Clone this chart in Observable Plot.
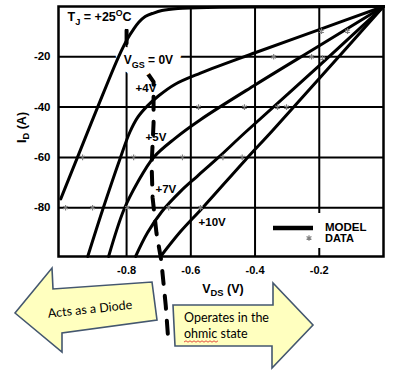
<!DOCTYPE html>
<html><head><meta charset="utf-8">
<script src="https://cdn.jsdelivr.net/npm/d3@7"></script>
<script src="https://cdn.jsdelivr.net/npm/@observablehq/plot@0.6"></script>
<style>body{margin:0;background:#fff}</style>
</head><body><div id="chart"></div>
<script>
// Axis ticks
const xTicks = [-0.8, -0.6, -0.4, -0.2];
const yTicks = [-20, -40, -60, -80];

// Model curves (V_DS in volts, I_D in amps), one pair of arrays per V_GS
const seriesNames = ["0V", "+4V", "+5V", "+7V", "+10V"];
const vds0 = [0, -0.3, -0.55, -0.64, -0.69, -0.716, -0.742, -0.762, -0.779, -0.797, -0.825, -0.89, -0.953, -1.005];
const id0  = [0, -0.2, -0.35, -0.8, -1.6, -2.6, -4.0, -6.3, -9.2, -12.8, -20, -40, -60, -76.5];
const vds4 = [0, -0.2, -0.4, -0.57, -0.65, -0.70, -0.735, -0.765, -0.79, -0.819, -0.875, -0.921];
const id4  = [0, -9.2, -18.4, -26.5, -31, -35.5, -39.5, -44, -50, -60, -81, -99.4];
const vds5 = [0, -0.2, -0.4, -0.57, -0.65, -0.716, -0.766, -0.809, -0.856];
const id5  = [0, -15.6, -31.2, -45, -52.5, -60, -70, -81, -99.4];
const vds7 = [0, -0.2, -0.43, -0.514, -0.58, -0.632, -0.69, -0.735, -0.772];
const id7  = [0, -23.5, -50, -60, -67.5, -73.5, -81.5, -90, -99.4];
const vds10 = [0, -0.2, -0.346, -0.43, -0.563, -0.632, -0.694];
const id10  = [0, -28.6, -49.4, -61, -80, -89.5, -99.4];

// Measured data points
const dataV = [-0.193, -0.112, -0.342, -0.224, -0.19, -0.576, -0.433, -0.33, -0.302, -0.937, -0.778, -0.626, -0.50, -0.44, -0.99, -0.906, -0.797, -0.669, -0.57];
const dataI = [-9.8, -9.8, -20, -20, -20.5, -40, -40, -40, -40, -60, -60, -60, -60, -60, -80, -80, -80, -80, -80];

// Dashed boundary (knee locus) between diode and ohmic operation
const locusV = [-0.800, -0.800, -0.716, -0.716, -0.722, -0.719, -0.707, -0.692, -0.678, -0.670];
const locusI = [-9.4, -14.6, -30, -46.5, -63, -76, -90, -101, -119, -133];

// In-chart labels
const labelText = ["T_{J} = +25^{O}C", "V_{GS} = 0V", "+4V", "+5V", "+7V", "+10V"];
const labelV = [-0.984, -0.809, -0.772, -0.741, -0.710, -0.576];
const labelI = [-4.2, -21.3, -32.5, -52, -72.7, -85.9];
const labelSize = [12.5, 12, 11.5, 11.5, 11.5, 11.5];

const seriesV = [vds0, vds4, vds5, vds7, vds10];
const seriesI = [id0, id4, id5, id7, id10];
const curves = seriesNames.flatMap((s, k) => seriesV[k].map((v, j) => ({s, v, i: seriesI[k][j]})));
const points = dataV.map((v, j) => ({v, i: dataI[j]}));
const locus = locusV.map((v, j) => ({v, i: locusI[j]}));
const labels = labelText.map((t, j) => ({t, v: labelV[j], i: labelI[j], fs: labelSize[j]}));
const haloLabels = labels.slice(0, 2);

const plot = Plot.plot({
  width: 401, height: 370,
  marginLeft: 58, marginRight: 18, marginTop: 6, marginBottom: 114,
  style: {fontFamily: "'Liberation Sans', Arial, sans-serif", fontWeight: "bold", background: "white", color: "black"},
  x: {domain: [-1.012, 0]},
  y: {domain: [-99.4, 0]},
  marks: [
    Plot.gridX(xTicks, {stroke: "black", strokeOpacity: 1, strokeWidth: 2}),
    Plot.gridY(yTicks, {stroke: "black", strokeOpacity: 1, strokeWidth: 2}),
    Plot.line(locus, {x: "v", y: "i", stroke: "black", strokeWidth: 4, strokeDasharray: "13,12"}),
    Plot.text(haloLabels, {x: "v", y: "i", text: "t", textAnchor: "start", fontSize: d => d.fs, fill: "white", stroke: "white", strokeWidth: 16, strokeLinejoin: "round"}),
    Plot.line(curves, {x: "v", y: "i", z: "s", stroke: "black", strokeWidth: 3, curve: "catmull-rom"}),
    Plot.dot(points, {x: "v", y: "i", symbol: "asterisk", r: 2.6, stroke: "#808080", strokeWidth: 1.2}),
    Plot.text(labels, {x: "v", y: "i", text: "t", textAnchor: "start", fontSize: d => d.fs, fill: "black"}),
    Plot.frame({stroke: "black", strokeWidth: 2.5}),
    Plot.axisX(xTicks, {tickSize: 0, tickPadding: 10, fontSize: 11, tickFormat: d => d.toFixed(1), label: null}),
    Plot.axisY(yTicks, {tickSize: 0, tickPadding: 8, fontSize: 11.5, tickFormat: d => String(d), label: null}),
    Plot.text(["V_{DS} (V)"], {text: d => d, frameAnchor: "bottom", dx: 2, dy: 32, fontSize: 12.5, textAnchor: "middle", lineAnchor: "middle"}),
    Plot.text(["I_{D} (A)"], {text: d => d, frameAnchor: "left", dx: -37, dy: -4, rotate: -90, fontSize: 12.5, textAnchor: "middle", lineAnchor: "middle"})
  ]
});

// Rich text: _{sub} and ^{sup}
d3.select(plot).selectAll("text").each(function() {
  const el = this;
  if (el.querySelector("tspan")) return;
  const s = el.textContent;
  if (!/[_^]\{/.test(s)) return;
  el.textContent = "";
  const parts = s.split(/([_^]\{[^}]*\})/).filter(p => p);
  let shift = 0;
  for (const p of parts) {
    const t = document.createElementNS("http://www.w3.org/2000/svg", "tspan");
    if (p[0] === "_") {
      t.textContent = p.slice(2, -1);
      t.setAttribute("font-size", "75%");
      t.setAttribute("dy", ((0.3 - shift) / 0.75).toFixed(3) + "em");
      shift = 0.3;
    } else if (p[0] === "^") {
      t.textContent = p.slice(2, -1);
      t.setAttribute("font-size", "70%");
      t.setAttribute("dy", ((-0.42 - shift) / 0.7).toFixed(3) + "em");
      shift = -0.42;
    } else {
      t.textContent = p;
      if (shift) t.setAttribute("dy", (-shift).toFixed(3) + "em");
      shift = 0;
    }
    el.appendChild(t);
  }
});

const svg = d3.select(plot);

// Legend
const lg = svg.append("g").attr("text-anchor", "start");
lg.append("rect").attr("x", 263).attr("y", 213).attr("width", 115).attr("height", 35).attr("fill", "white");
lg.append("line").attr("x1", 273).attr("x2", 313).attr("y1", 228).attr("y2", 228).attr("stroke", "black").attr("stroke-width", 4.5);
lg.append("path").attr("d", d3.symbol(d3.symbolAsterisk, 22)()).attr("transform", "translate(309,238)").attr("fill", "none").attr("stroke", "#808080").attr("stroke-width", 1.2);
lg.append("text").attr("x", 325).attr("y", 227).attr("dy", "0.35em").attr("font-size", 11.5).attr("font-weight", "bold").text("MODEL");
lg.append("text").attr("x", 325).attr("y", 238).attr("dy", "0.35em").attr("font-size", 11).attr("font-weight", "bold").text("DATA");

// Annotation arrows
const ag = svg.append("g").attr("font-family", "Lato, 'Open Sans', sans-serif").attr("font-weight", "normal").attr("text-anchor", "start");
const arrowFill = "#ffffbf", arrowStroke = "#44576f";
ag.append("path")
  .attr("d", "M15,313 L52,268 L53,289 L152,282 L157,320 L62,333 L62,352 Z")
  .attr("fill", arrowFill).attr("stroke", arrowStroke).attr("stroke-width", 1.6).attr("stroke-linejoin", "miter");
ag.append("text").attr("transform", "translate(90,309) rotate(-6)").attr("text-anchor", "middle").attr("dy", "0.35em")
  .attr("font-size", 12.5).attr("fill", "black").text("Acts as a Diode");
ag.append("path")
  .attr("d", "M173,305 L273,305 L273,283 L313,325 L272,368 L272,346 L175,346 Z")
  .attr("fill", arrowFill).attr("stroke", arrowStroke).attr("stroke-width", 1.6).attr("stroke-linejoin", "miter");
ag.append("text").attr("x", 184).attr("y", 318).attr("dy", "0.35em").attr("font-size", 12.5).attr("fill", "black").text("Operates in the");
ag.append("text").attr("x", 184).attr("y", 334).attr("dy", "0.35em").attr("font-size", 12.5).attr("fill", "black").text("ohmic state");
// spell-check squiggle under "ohmic"
let sq = "M184,342";
for (let x = 186, up = true; x <= 218; x += 2, up = !up) sq += ` L${x},${up ? 340.8 : 342.2}`;
ag.append("path").attr("d", sq).attr("fill", "none").attr("stroke", "#d22").attr("stroke-width", 0.8);

document.getElementById("chart").appendChild(plot);
</script>
</body></html>
